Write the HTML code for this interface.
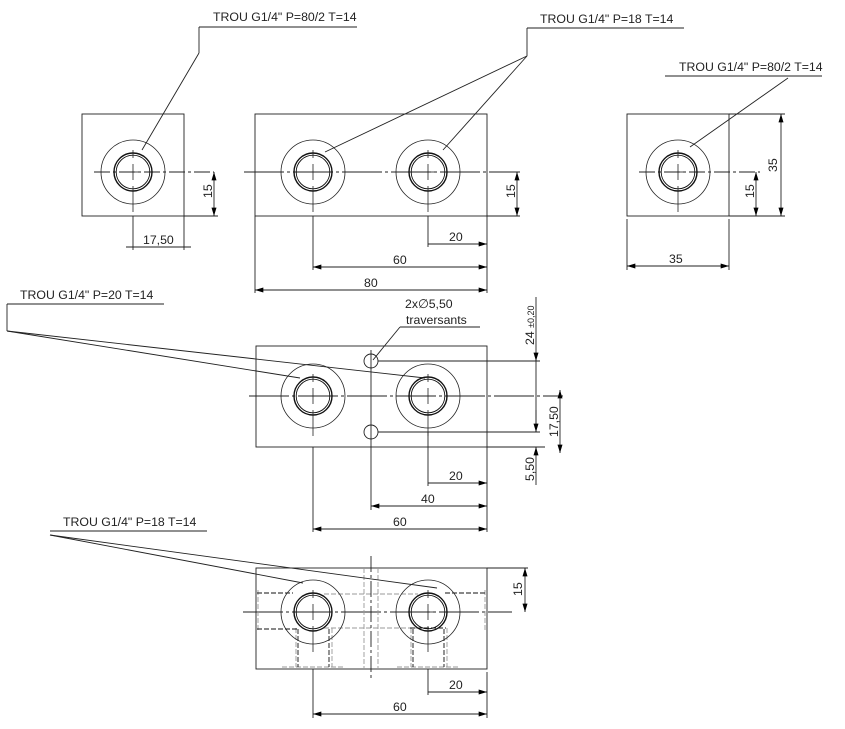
<!DOCTYPE html>
<html><head><meta charset="utf-8"><style>
html,body{margin:0;padding:0;background:#fff}
svg{display:block}
text{font-family:"Liberation Sans",sans-serif;font-size:12.3px;fill:#222}
</style></head><body>
<svg width="845" height="729" viewBox="0 0 845 729" xmlns="http://www.w3.org/2000/svg">
<defs>
<marker id="a" viewBox="0 0 10 6" refX="10" refY="3" markerWidth="9" markerHeight="5" orient="auto-start-reverse" markerUnits="userSpaceOnUse"><path d="M0,0L10,3L0,6z" fill="#000"/></marker>
<g id="hole">
<circle r="32" fill="none" stroke="#222" stroke-width="0.8"/>
<circle r="19" fill="none" stroke="#111" stroke-width="1.4"/>
<circle r="16.8" fill="none" stroke="#111" stroke-width="0.9"/>
<line x1="0" y1="-22" x2="0" y2="-14" stroke="#222" stroke-width="0.8"/>
<line x1="0" y1="-8" x2="0" y2="8" stroke="#222" stroke-width="0.8"/>
<line x1="0" y1="14" x2="0" y2="40" stroke="#222" stroke-width="0.8"/>
<line x1="-8" y1="0" x2="8" y2="0" stroke="#222" stroke-width="0.8"/>
</g>
</defs>
<g stroke="#222" stroke-width="0.9" fill="none">
<rect x="82" y="114" width="102" height="102"/>
<line x1="94" y1="172" x2="214" y2="172" stroke-dasharray="16,3,3,3"/>
<line x1="184" y1="216" x2="218" y2="216"/>
<line x1="214" y1="172" x2="214" y2="216" marker-start="url(#a)" marker-end="url(#a)"/>
<line x1="133" y1="216" x2="133" y2="250"/><line x1="184" y1="216" x2="184" y2="250"/>
<line x1="126" y1="247" x2="191" y2="247"/>
<polyline points="199,27 357,27" /><line x1="199" y1="27" x2="199" y2="53"/><line x1="199" y1="53" x2="142" y2="150"/>
<rect x="255" y="114" width="232" height="102"/>
<line x1="244" y1="172" x2="520" y2="172" stroke-dasharray="40,3,3,3"/>
<line x1="487" y1="216" x2="520" y2="216"/>
<line x1="517" y1="172" x2="517" y2="216" marker-start="url(#a)" marker-end="url(#a)"/>
<line x1="255" y1="216" x2="255" y2="293"/><line x1="487" y1="216" x2="487" y2="293"/>
<line x1="313" y1="216" x2="313" y2="270"/><line x1="428" y1="216" x2="428" y2="247"/>
<line x1="428" y1="244" x2="487" y2="244" marker-end="url(#a)"/>
<line x1="313" y1="267" x2="487" y2="267" marker-start="url(#a)" marker-end="url(#a)"/>
<line x1="255" y1="290" x2="487" y2="290" marker-start="url(#a)" marker-end="url(#a)"/>
<line x1="527" y1="28" x2="684" y2="28"/><line x1="527" y1="28" x2="527" y2="56"/>
<line x1="527" y1="56" x2="325" y2="152"/><line x1="527" y1="56" x2="443" y2="150"/>
<rect x="627" y="114" width="102" height="102"/>
<line x1="639" y1="172" x2="760" y2="172" stroke-dasharray="16,3,3,3"/>
<line x1="729" y1="114" x2="785" y2="114"/><line x1="729" y1="216" x2="785" y2="216"/>
<line x1="781" y1="114" x2="781" y2="216" marker-start="url(#a)" marker-end="url(#a)"/>
<line x1="756" y1="172" x2="756" y2="216" marker-start="url(#a)" marker-end="url(#a)"/>
<line x1="627" y1="219" x2="627" y2="270"/><line x1="729" y1="219" x2="729" y2="270"/>
<line x1="627" y1="266" x2="729" y2="266" marker-start="url(#a)" marker-end="url(#a)"/>
<line x1="665" y1="76" x2="822" y2="76"/><line x1="788" y1="78" x2="690" y2="147"/>
<rect x="256" y="346" width="231" height="101"/>
<line x1="249" y1="396" x2="563" y2="396" stroke-dasharray="40,3,3,3"/>
<circle cx="371" cy="361" r="7"/><circle cx="371" cy="432" r="7"/>
<line x1="371" y1="350" x2="371" y2="510"/>
<line x1="378" y1="361" x2="540" y2="361"/><line x1="378" y1="432" x2="540" y2="432"/>
<line x1="487" y1="447" x2="545" y2="447"/>
<line x1="536" y1="297" x2="536" y2="361" marker-end="url(#a)"/>
<line x1="536" y1="361" x2="536" y2="432" />
<line x1="536" y1="410" x2="536" y2="432" marker-end="url(#a)"/>
<line x1="536" y1="447" x2="536" y2="485" marker-start="url(#a)"/>
<line x1="560" y1="390" x2="560" y2="453" marker-start="url(#a)" marker-end="url(#a)"/>
<line x1="313" y1="447" x2="313" y2="532"/><line x1="428" y1="432" x2="428" y2="486"/><line x1="487" y1="447" x2="487" y2="532"/>
<line x1="428" y1="483" x2="487" y2="483" marker-end="url(#a)"/>
<line x1="371" y1="506" x2="487" y2="506" marker-start="url(#a)" marker-end="url(#a)"/>
<line x1="313" y1="529" x2="487" y2="529" marker-start="url(#a)" marker-end="url(#a)"/>
<line x1="400" y1="327" x2="480" y2="327"/><line x1="400" y1="327" x2="373" y2="360"/>
<line x1="7" y1="304" x2="164" y2="304"/><line x1="7" y1="304" x2="7" y2="331"/>
<line x1="7" y1="331" x2="300" y2="378"/><line x1="7" y1="331" x2="425" y2="378"/>
<rect x="256" y="568" width="231" height="101"/>
<line x1="243" y1="612" x2="512" y2="612" stroke-dasharray="40,3,3,3"/>
<g stroke="#999" stroke-dasharray="5,2">
<line x1="364" y1="568" x2="364" y2="669"/><line x1="378" y1="568" x2="378" y2="669"/>
<line x1="324" y1="594" x2="418" y2="594"/><line x1="324" y1="628" x2="418" y2="628"/>
<line x1="258" y1="590" x2="258" y2="632"/><line x1="485" y1="590" x2="485" y2="632"/>
<line x1="282" y1="667" x2="345" y2="667"/><line x1="397" y1="667" x2="460" y2="667"/>
<line x1="296" y1="628" x2="296" y2="667"/><line x1="332" y1="628" x2="332" y2="667"/>
<line x1="411" y1="628" x2="411" y2="667"/><line x1="447" y1="628" x2="447" y2="667"/>
</g>
<line x1="371" y1="556" x2="371" y2="680" stroke-dasharray="16,3,3,3"/>
<g stroke-dasharray="5,2" stroke="#111">
<line x1="257" y1="593" x2="293" y2="593"/><line x1="257" y1="629" x2="297" y2="629"/>
<line x1="298" y1="629" x2="298" y2="667"/><line x1="329" y1="629" x2="329" y2="667"/>
<line x1="445" y1="593" x2="487" y2="593"/><line x1="410" y1="628" x2="446" y2="628"/>
<line x1="413" y1="629" x2="413" y2="667"/><line x1="444" y1="629" x2="444" y2="667"/>
</g>
<line x1="487" y1="568" x2="528" y2="568"/>
<line x1="525" y1="568" x2="525" y2="612" marker-start="url(#a)" marker-end="url(#a)"/>
<line x1="313" y1="669" x2="313" y2="718"/><line x1="428" y1="669" x2="428" y2="695"/><line x1="487" y1="672" x2="487" y2="718"/>
<line x1="428" y1="692" x2="487" y2="692" marker-end="url(#a)"/>
<line x1="313" y1="714" x2="487" y2="714" marker-start="url(#a)" marker-end="url(#a)"/>
<line x1="50" y1="531" x2="207" y2="531"/>
<line x1="50" y1="535" x2="303" y2="583"/><line x1="50" y1="535" x2="437" y2="588"/>
</g>
<use href="#hole" x="133" y="172"/><use href="#hole" x="313" y="172"/><use href="#hole" x="428" y="172"/><use href="#hole" x="678" y="172"/>
<use href="#hole" x="313" y="396"/><use href="#hole" x="428" y="396"/>
<use href="#hole" x="313" y="612"/><use href="#hole" x="428" y="612"/>
<text x="213" y="21">TROU G1/4" P=80/2 T=14</text>
<text x="540" y="23">TROU G1/4" P=18 T=14</text>
<text x="679" y="71">TROU G1/4" P=80/2 T=14</text>
<text x="20" y="299">TROU G1/4" P=20 T=14</text>
<text x="63" y="526">TROU G1/4" P=18 T=14</text>
<text x="143" y="244">17,50</text>
<text x="449" y="241">20</text><text x="393" y="264">60</text><text x="364" y="287">80</text>
<text x="669" y="263">35</text>
<text x="449" y="480">20</text><text x="421" y="503">40</text><text x="393" y="526">60</text>
<text x="449" y="689">20</text><text x="393" y="711">60</text>
<text x="405" y="308">2x∅5,50</text><text x="406" y="324">traversants</text>
<g>
<text transform="translate(212,198) rotate(-90)">15</text>
<text transform="translate(515,198) rotate(-90)">15</text>
<text transform="translate(754,198) rotate(-90)">15</text>
<text transform="translate(777,172) rotate(-90)">35</text>
<text transform="translate(534,345) rotate(-90)">24 <tspan font-size="9">±0,20</tspan></text>
<text transform="translate(558,437) rotate(-90)">17,50</text>
<text transform="translate(534,481) rotate(-90)">5,50</text>
<text transform="translate(522,596) rotate(-90)">15</text>
</g>
</svg>
</body></html>
